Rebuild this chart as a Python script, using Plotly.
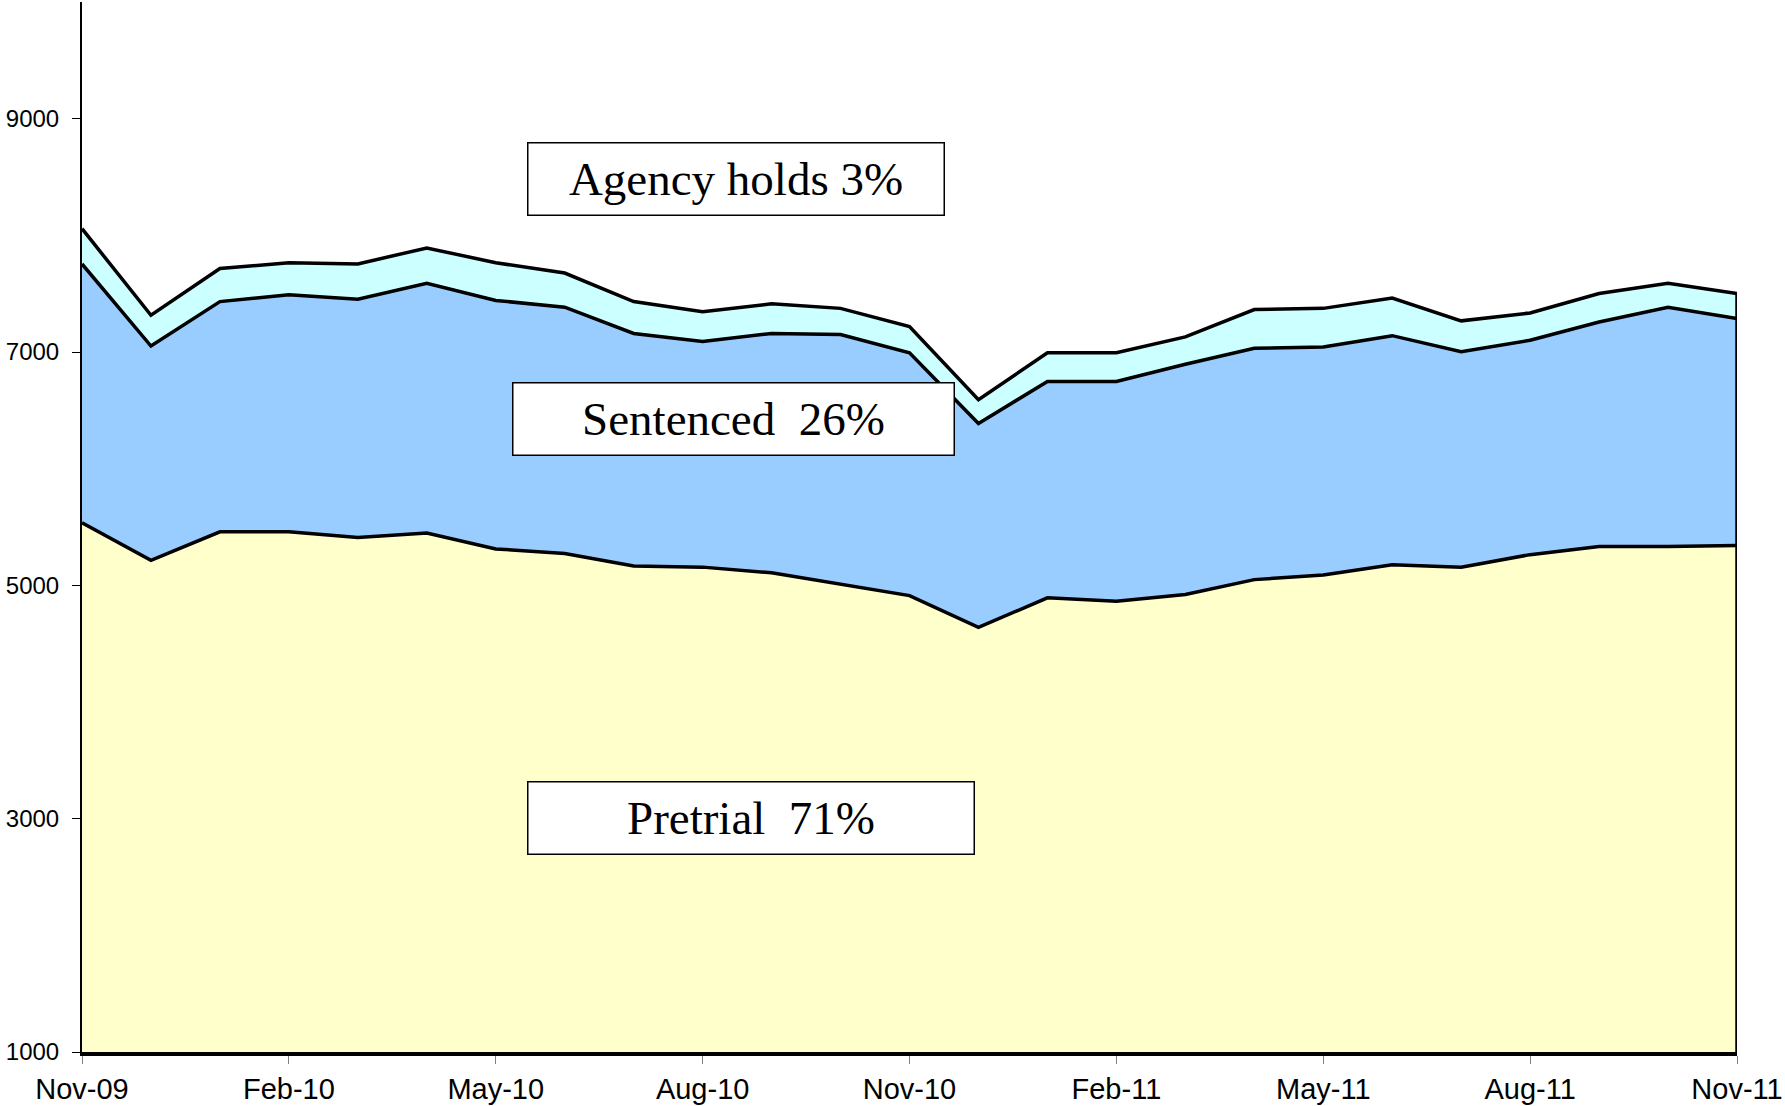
import plotly.graph_objects as go

# monthly snapshots, Nov-09 .. Nov-11
months = ["Nov-09", "Dec-09", "Jan-10", "Feb-10", "Mar-10", "Apr-10", "May-10", "Jun-10",
          "Jul-10", "Aug-10", "Sep-10", "Oct-10", "Nov-10", "Dec-10", "Jan-11", "Feb-11",
          "Mar-11", "Apr-11", "May-11", "Jun-11", "Jul-11", "Aug-11", "Sep-11", "Oct-11", "Nov-11"]

pretrial = [5537, 5215, 5459, 5459, 5410, 5449, 5312, 5273, 5166, 5156, 5107, 5010, 4912,
            4639, 4893, 4863, 4922, 5049, 5088, 5176, 5156, 5263, 5332, 5332, 5342]
sentenced = [2218, 1836, 1973, 2032, 2042, 2140, 2130, 2111, 1993, 1935, 2052, 2140, 2081,
             1748, 1855, 1885, 1973, 1983, 1954, 1964, 1847, 1838, 1925, 2052, 1944]
agency = [302, 264, 284, 274, 303, 303, 323, 293, 273, 254, 254, 224, 225,
          205, 245, 245, 235, 332, 332, 322, 264, 234, 244, 205, 215]

tick_months = months[::3]
y_ticks = [1000, 3000, 5000, 7000, 9000]

fig = go.Figure()
series = [("Pretrial", pretrial, "#FFFFCC"),
          ("Sentenced", sentenced, "#99CCFF"),
          ("Agency holds", agency, "#CCFFFF")]
for name, vals, col in series:
    fig.add_trace(go.Scatter(x=months, y=vals, name=name, mode="lines",
                             stackgroup="one", fillcolor=col,
                             line=dict(color="black", width=3.5)))

# right-hand edge of the area outline
total_last = pretrial[-1] + sentenced[-1] + agency[-1]
fig.add_trace(go.Scatter(x=[months[-1], months[-1]], y=[1000, total_last], mode="lines",
                         line=dict(color="black", width=3.5), hoverinfo="skip"))

boxes = [("Agency holds 3%", 0.3949, 0.8319, 415),
         ("Sentenced\u00a0 26%", 0.3934, 0.6033, 440),
         ("Pretrial\u00a0 71%", 0.4044, 0.2224, 445)]
for txt, bx, by, w in boxes:
    fig.add_annotation(text=txt, x=bx, y=by, xref="paper", yref="paper",
                       xanchor="center", yanchor="middle", showarrow=False,
                       width=w, height=71, align="center", borderpad=0,
                       bgcolor="white", bordercolor="black", borderwidth=1.5,
                       font=dict(family="Liberation Serif", size=47, color="black"))

fig.update_layout(
    width=1785, height=1106,
    margin=dict(l=82, r=48, t=2, b=54),
    paper_bgcolor="white", plot_bgcolor="white",
    showlegend=False,
    font=dict(family="Liberation Sans", color="black"),
)
fig.update_xaxes(type="category", range=[0, len(months) - 1],
                 tickvals=tick_months, ticktext=tick_months, automargin=False,
                 ticks="outside", ticklen=8, tickwidth=1, tickcolor="#808080",
                 showline=True, linecolor="black", linewidth=4,
                 showgrid=False, zeroline=False, tickfont=dict(size=29))
fig.update_yaxes(range=[1000, 10000], tickvals=y_ticks, automargin=False,
                 ticks="outside", ticklen=8, tickwidth=1, tickcolor="black",
                 ticklabelstandoff=8,
                 showline=True, linecolor="black", linewidth=2,
                 showgrid=False, zeroline=False, tickfont=dict(size=24))

# drop the default page margin so the figure sits at the window's corner
fig.write_html("out.html", config={"displayModeBar": False},
               post_script="document.body.style.margin='0';")
